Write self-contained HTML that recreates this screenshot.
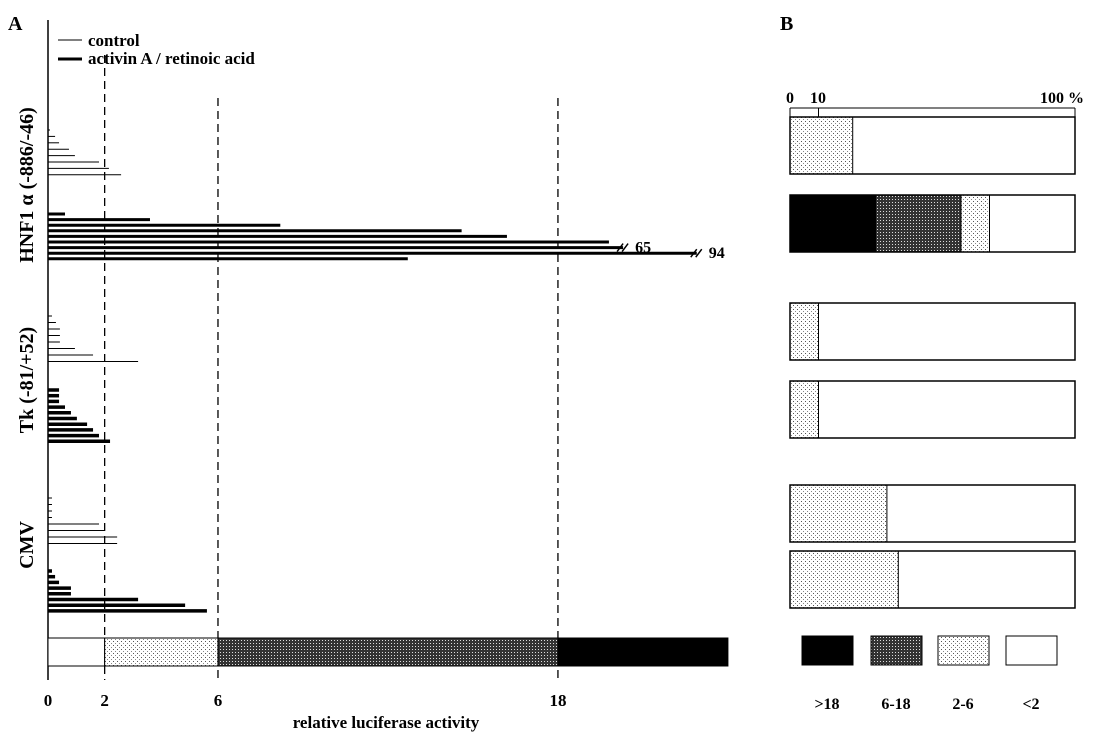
<!DOCTYPE html>
<html><head><meta charset="utf-8"><style>body{margin:0;background:#fff}svg{display:block}text{font-family:"Liberation Serif",serif;fill:#000}</style></head>
<body>
<svg id="fig" width="1115" height="739" xmlns="http://www.w3.org/2000/svg">
<defs>
<pattern id="dots" width="4" height="4" patternUnits="userSpaceOnUse"><rect width="4" height="4" fill="#fff"/><rect x="1" y="1" width="1" height="1" fill="#555"/><rect x="3" y="3" width="1" height="1" fill="#888"/></pattern>
<pattern id="dense" width="3" height="3" patternUnits="userSpaceOnUse"><rect width="3" height="3" fill="#333"/><rect x="1" y="1" width="1" height="1" fill="#ddd"/></pattern>
</defs>
<text x="8" y="30" font-size="20" font-weight="bold">A</text>
<text x="780" y="30" font-size="20" font-weight="bold">B</text>
<g>
<line x1="58" y1="40" x2="82" y2="40" stroke="#000" stroke-width="1"/><text x="88" y="46" font-size="17" font-weight="bold">control</text>
<line x1="58" y1="59" x2="82" y2="59" stroke="#000" stroke-width="3"/><text x="88" y="64" font-size="17" font-weight="bold">activin A / retinoic acid</text>
</g>
<g id="axisA"></g>
<g id="bars"></g>
<g id="panelB"></g>
<text x="386" y="728" font-size="17" font-weight="bold" text-anchor="middle">relative luciferase activity</text>
<text transform="translate(33,185) rotate(-90)" font-size="20" font-weight="bold" text-anchor="middle">HNF1 α (-886/-46)</text>
<text transform="translate(33,380) rotate(-90)" font-size="20" font-weight="bold" text-anchor="middle">Tk (-81/+52)</text>
<text transform="translate(33,545) rotate(-90)" font-size="20" font-weight="bold" text-anchor="middle">CMV</text>
</svg>
<script>
const xTicks=[0,2,6,18];
const dashed=[2,6,18];
const hnfCtrl=[0.07,0.25,0.39,0.74,0.95,1.8,2.15,2.58];
const hnfAct=[0.6,3.6,8.2,14.6,16.2,19.8,65,94,12.7];
const tkCtrl=[0.14,0.28,0.42,0.42,0.42,0.95,1.59,3.18];
const tkAct=[0.39,0.39,0.39,0.6,0.81,1.02,1.38,1.59,1.8,2.19];
const cmvCtrl=[0.14,0.14,0.14,0.14,1.8,2.01,2.44,2.44];
const cmvAct=[0.14,0.25,0.39,0.81,0.81,3.18,4.84,5.61];
const rowsB=[[0,0,22],[30,30,10],[0,0,10],[0,0,10],[0,0,34],[0,0,38]];
const legendB=[">18","6-18","2-6","<2"];
const NS="http://www.w3.org/2000/svg";
const X=v=>48+v*28.33, BX=p=>790+p*2.85;
function mk(t,a,p){const e=document.createElementNS(NS,t);for(const k in a)e.setAttribute(k,a[k]);(p||document.getElementById('fig')).appendChild(e);return e;}
const ax=document.getElementById('axisA'), bars=document.getElementById('bars'), pb=document.getElementById('panelB');
let l=mk('line',{x1:48,y1:20,x2:48,y2:680,stroke:'#000','stroke-width':1.5},ax);
 
xTicks.forEach(v=>{const t=mk('text',{x:X(v),y:706,'font-size':17,'font-weight':'bold','text-anchor':'middle'},ax);t.textContent=v;
 });
dashed.forEach(v=>{const d=mk('line',{x1:X(v),y1:v==2?55:98,x2:X(v),y2:680,stroke:'#000','stroke-width':1.3,'stroke-dasharray':'8,5'},ax);
 });
[[0,2,'#fff'],[2,6,'url(#dots)'],[6,18,'url(#dense)'],[18,24,'#000']].forEach(s=>{const r=mk('rect',{x:X(s[0]),y:638,width:X(Math.min(s[1],24.05))-X(s[0]),height:28,fill:s[2],stroke:'#000'},ax);
 });
function group(vals,y0,step,w,name){vals.forEach((v,i)=>{const y=y0+i*step;const vv=v>30?(v>80?22.9:20.3):v;
const b=mk('line',{x1:48,y1:y,x2:X(vv),y2:y,stroke:'#000','stroke-width':w},bars);
 
if(v>30){[0,5].forEach(o=>mk('line',{x1:X(vv)-6+o,y1:y+4,x2:X(vv)+o,y2:y-4,stroke:'#000','stroke-width':1.5},bars));
const t=mk('text',{x:X(vv)+12,y:y+5,'font-size':16,'font-weight':'bold'},bars);t.textContent=v;
 }});}
group(hnfCtrl,130,6.4,1,'bar-hnf1a-control');
group(hnfAct,214,5.6,3,'bar-hnf1a-activin');
group(tkCtrl,316,6.5,1,'bar-tk-control');
group(tkAct,390,5.7,3.5,'bar-tk-activin');
group(cmvCtrl,498,6.5,1,'bar-cmv-control');
group(cmvAct,571,5.7,3.5,'bar-cmv-activin');
[['0',790],['10',818],['100 %',1062]].forEach(s=>{const t=mk('text',{x:s[1],y:103,'font-size':16,'font-weight':'bold','text-anchor':'middle'},pb);t.textContent=s[0];
 });
mk('line',{x1:790,y1:108,x2:1075,y2:108,stroke:'#000'},pb);
[0,10,100].forEach(p=>mk('line',{x1:BX(p),y1:108,x2:BX(p),y2:117,stroke:'#000'},pb));
const rowY=[117,195,303,381,485,551];
rowsB.forEach((r,i)=>{const y=rowY[i],h=57;const g=mk('g',{},pb);
 
let c=0;[[r[0],'#000'],[r[1],'url(#dense)'],[r[2],'url(#dots)']].forEach(s=>{if(s[0]>0){mk('rect',{x:BX(c),y:y,width:s[0]*2.85,height:h,fill:s[1],stroke:'#000'},g);}c+=s[0];});
mk('rect',{x:790,y:y,width:285,height:h,fill:'none',stroke:'#000','stroke-width':1.5},g);});
[['#000',802],['url(#dense)',871],['url(#dots)',938],['#fff',1006]].forEach((s,i)=>{const r=mk('rect',{x:s[1],y:636,width:51,height:29,fill:s[0],stroke:'#000'},pb);
 
const t=mk('text',{x:s[1]+25,y:709,'font-size':16,'font-weight':'bold','text-anchor':'middle'},pb);t.textContent=legendB[i];
 });
</script>
</body></html>
